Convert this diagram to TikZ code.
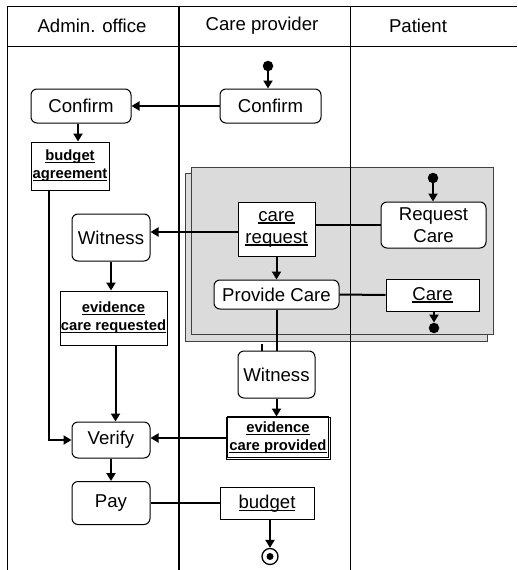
\documentclass[tikz,border=0pt]{standalone}
\usepackage{fontspec}
\setmainfont{Liberation Sans}
\usetikzlibrary{arrows.meta}

% underline with a heavier rule than \underline gives
\newcommand\ulbox[2][1.4pt]{\setbox0\hbox{#2}\leavevmode\rlap{\rule[-2.6pt]{\wd0}{#1}}\box0}
\newcommand\bigtxt{\fontsize{18.6}{22}\selectfont}
\newcommand\smalltxt{\fontsize{14.8}{18}\selectfont\bfseries}

\tikzset{
  action/.style={draw, line width=1pt, rounded corners=6pt, fill=white,
                 inner sep=0pt, align=center, font=\bigtxt},
  object/.style={draw, line width=1pt, fill=white, inner sep=0pt,
                 align=center, font=\bigtxt},
  evidence/.style={object, font=\smalltxt},
  conn/.style={line width=2pt},
  arr/.style={conn, -{Triangle[length=8pt,width=9pt]}},
  initial/.style={circle, fill=black, inner sep=0pt, minimum size=10.5pt},
  lane/.style={line width=1pt},
  region/.style={draw=black!75, line width=1pt, fill=black!14},
}

\begin{document}
\begin{tikzpicture}[x=1pt, y=-1pt]
  \useasboundingbox (0,0) rectangle (517,570);

  % interruptible region (stacked look)
  \draw[region] (185,173) rectangle (487,341);
  \draw[region] (191,167) rectangle (493,334);

  % swimlanes
  \draw[lane] (7,570) -- (7,6) -- (517,6);
  \draw[lane] (7,46) -- (517,46);
  \draw[line width=1.8pt] (179,6) -- (179,570);
  \draw[lane] (350,6) -- (350,570);
  \node[font=\bigtxt] (hA) at (92,26) {Admin. office};
  \node[font=\bigtxt] (hC) at (262,26) {Care provider};
  \node[font=\bigtxt] (hP) at (418,26) {Patient};

  % admin office
  \node[action, minimum width=100pt, minimum height=34pt] (conf1) at (81,106) {Confirm};
  \node[evidence, minimum width=78pt, minimum height=48pt] (budagr) at (70,166)
       {\ulbox[1.6pt]{budget}\\\ulbox[1.6pt]{agreement}};
  \node[action, minimum width=78pt, minimum height=47pt] (witA) at (111,237.5) {Witness};
  \node[evidence, minimum width=107pt, minimum height=54pt] (evreq) at (113.5,318)
       {\ulbox[1.6pt]{evidence}\\\ulbox[1.6pt]{care requested}};
  \node[action, minimum width=78pt, minimum height=36pt] (verify) at (111,440) {Verify};
  \node[action, minimum width=78pt, minimum height=43pt] (pay) at (111,503) {Pay};

  % care provider
  \node[initial] (start1) at (268,66) {};
  \node[action, minimum width=101pt, minimum height=34pt] (conf2) at (270.5,106) {Confirm};
  \node[object, minimum width=77pt, minimum height=54pt] (careq) at (276.5,229)
       {\ulbox{care}\\\ulbox{request}};
  \node[action, minimum width=125pt, minimum height=29pt] (provide) at (276.5,294.5) {Provide Care};
  \node[action, minimum width=77pt, minimum height=47pt] (witB) at (276.5,374.5) {Witness};
  \node[evidence, minimum width=104pt, minimum height=42pt]
       (evprov) at (278,438)
       {\ulbox[1.6pt]{evidence}\\\ulbox[1.6pt]{care provided}};
  \draw[line width=0.9pt] ([xshift=1.8pt]evprov.north west)
       rectangle ([xshift=-2.2pt,yshift=2.2pt]evprov.south east);
  \node[object, minimum width=94pt, minimum height=32pt] (budget) at (267,503.5) {\ulbox{budget}};
  \node[circle, draw, line width=1.3pt, fill=white, minimum size=16pt, inner sep=0pt] (end1) at (270,556.5) {};
  \node[circle, fill=black, minimum size=7pt, inner sep=0pt] (end1dot) at (end1.center) {};

  % patient
  \node[initial] (start2) at (433,178) {};
  \node[action, minimum width=105pt, minimum height=46pt] (reqcare) at (433.5,225)
       {Request\\Care};
  \node[object, minimum width=93pt, minimum height=32pt] (care) at (432.5,295) {\ulbox{Care}};
  \node[initial] (end2) at (434,328) {};

  % flows
  \draw[arr] (start1) -- (start1 |- conf2.north);
  \draw[arr] (conf2.west) -- (conf1.east);
  \draw[arr] ([xshift=-3pt]conf1.south) coordinate (c1s) -- (c1s |- budagr.north);
  \coordinate (bx) at (49,0);
  \draw[arr] (budagr.south -| bx) |- (verify.west);
  \draw[arr] ([yshift=-3pt]careq.west) coordinate (cqw) -- (cqw -| witA.east);
  \draw[conn] (reqcare.west) -- (reqcare.west -| careq.east);
  \draw[arr] (start2) -- (start2 |- reqcare.north);
  \draw[arr] (careq.south) -- (provide.north);
  \draw[conn] (provide.east) -- (care.west);
  \draw[arr] (care.south -| end2) -- (end2.north);
  \draw[conn] (provide.south) -- (witB.north);
  \coordinate (stubA) at (262,344);
  \draw[line width=1.5pt] (stubA) -- (stubA |- witB.north);
  \draw[arr] (witA.south) -- (witA.south |- evreq.north);
  \draw[arr] ([xshift=2pt]evreq.south) coordinate (ers) -- (ers |- verify.north);
  \draw[arr] (witB.south) -- (witB.south |- evprov.north);
  \draw[arr] (evprov.west) -- (evprov.west -| verify.east);
  \draw[arr] (verify.south) -- (pay.north);
  \draw[conn] (pay.east) -- (pay.east -| budget.west);
  \draw[arr] (end1.north |- budget.south) -- (end1.north);
\end{tikzpicture}
\end{document}
